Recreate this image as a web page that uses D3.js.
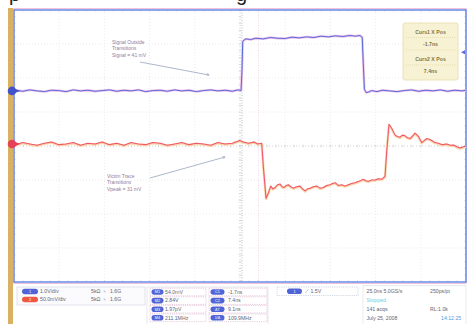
<!DOCTYPE html>
<html>
<meta charset="utf-8">
<head>
<style>
body { margin:0; padding:0; background:#fff; }
svg { display:block; }
text { font-family: "Liberation Sans", Arial, sans-serif; }
</style>
</head>
<body>
<svg></svg>
<script src="https://cdn.jsdelivr.net/npm/d3@7/dist/d3.min.js"></script>
<script>

var width = 470, height = 324;

// ch1 (blue) in volts, ch2 (red) in millivolts, time in ns
var blueTrace = [
  [-127,0.02],[-123,-0.01],[-119,0.03],[-115,0.00],[-111,-0.02],[-107,0.02],[-103,0.01],[-99,-0.02],
  [-95,0.03],[-91,0.00],[-87,0.02],[-83,-0.01],[-79,0.01],[-75,0.03],[-71,-0.01],[-67,0.02],
  [-63,0.00],[-59,0.03],[-55,-0.02],[-51,0.01],[-47,0.02],[-43,-0.01],[-39,0.03],[-35,0.00],
  [-31,0.02],[-27,-0.02],[-23,0.01],[-19,0.03],[-15,0.00],[-11,0.02],[-7,-0.01],[-4,0.03],[-2.2,0.01],
  [-1.7,0.6],[-1.3,1.45],[-0.5,1.50],[0.5,1.53],[3,1.51],[6,1.55],[10,1.53],[14,1.57],[18,1.55],
  [22,1.54],[26,1.58],[30,1.56],[34,1.59],[38,1.57],[42,1.61],[46,1.59],[50,1.62],[54,1.60],
  [58,1.63],[61,1.61],[63.5,1.63],[64.8,1.58],
  [65.4,0.8],[66.0,0.05],[67,-0.05],[68.5,-0.03],[70,0.01],[73,-0.02],[76,0.02],[80,0.00],
  [84,-0.02],[88,0.01],[92,0.03],[96,-0.01],[100,0.02],[104,0.00],[108,0.03],[112,-0.01],
  [116,0.02],[120,0.00],[122,0.02]
];

var redTrace = [
  [-127,-1],[-123,2],[-119,0],[-115,-2],[-111,1],[-107,3],[-103,-1],[-99,0],[-95,2],[-91,-2],
  [-87,1],[-83,0],[-79,3],[-75,-1],[-71,1],[-67,-2],[-63,2],[-59,0],[-55,-1],[-51,2],[-47,1],
  [-43,-2],[-39,0],[-35,2],[-31,-1],[-27,1],[-23,0],[-19,-2],[-15,2],[-11,0],[-7,1],[-3,5],
  [-1,3],[2,1],[5,3],[7,0],[9.2,1],
  [10.1,-33],[11.6,-80],[12.9,-72],[14.2,-62],[15.4,-66],[16.6,-64],[18,-60],[19.4,-59],
  [20.5,-63],[21.6,-64],[22.8,-61],[24.0,-60],[25.3,-63],[26.7,-65],[28.5,-63],[30.4,-62],
  [31.8,-66],[33.2,-69],[34.6,-66],[36.0,-65],[37.8,-63],[39.7,-62],[41.5,-65],[43.3,-64],
  [45.1,-61],[47.0,-60],[48.4,-58],[49.8,-57],[51.6,-61],[53.5,-60],[55.3,-62],[57.1,-60],
  [59,-58],[60.8,-57],[63,-55],[65.4,-52],[66.8,-54],[68.2,-55],[70,-53],[71.9,-53],
  [73.8,-51],[75.6,-52],[76.8,-49],[77.4,-48],
  [78.4,-9],[79.6,29],[81.1,23],[83.0,13],[84.3,11],[85.7,10],[87.1,13],[88.5,12],[89.9,9],
  [91.3,8],[92.7,12],[94.0,16],[95.9,11],[97.7,2],[99.1,5],[100.5,8],[101.9,7],[103.3,5],
  [105.1,2],[106.9,1],[109.2,-1],[111.6,0],[113.5,-2],[115.3,-1.5],[117.1,-4],[118.9,-6],
  [120.8,-4],[122.2,-3]
];

var ch1 = {voltsPerDiv: 1.0, posDiv: 1.62};
var ch2 = {voltsPerDiv: 50, posDiv: 0.06};
var trigLevel = 1.14;
var cursorTimes = [-1.7, 7.4];
var cursorText = ["Curs1 X Pos", "-1.7ns", "Curs2 X Pos", "7.4ns"];

var note1 = ["Signal Outside", "Transitions", "Signal = 41 mV"];
var note2 = ["Victim Trace", "Transitions", "Vpeak = 31 mV"];

var chanRows = [["1", "1.0V/div", "5kΩ", "1.6G"], ["2", "50.0mV/div", "5kΩ", "1.6G"]];
var measA = ["54.0mV", "2.84V", "1.97pV", "211.1MHz"];
var measB = ["-1.7ns", "7.4ns", "9.1ns", "109.9MHz"];
var trigText = "1.5V";
var tbLeft = ["25.0ns   5.0GS/s", "Stopped", "141 acqs", "July 25, 2008"];
var tbRight = ["250ps/pt", "", "RL:1.0k", "14:12:25"];

var svg = d3.select("svg").attr("width", width).attr("height", height);

var L = 14, R = 466, T = 10, B = 282;
var x = d3.scaleLinear().domain([-127.8, 122.2]).range([L, R]);
var xDiv = d3.scaleLinear().domain([-5, 5]).range([L, R]);
var yDiv = d3.scaleLinear().domain([-4, 4]).range([B, T]);
var yBlue = function(v) { return yDiv(v / ch1.voltsPerDiv + ch1.posDiv); };
var yRed = function(v) { return yDiv(v / ch2.voltsPerDiv + ch2.posDiv); };

// cut-off caption above
svg.append("text").attr("x", 9).attr("y", 1).attr("font-family", "Liberation Serif")
  .attr("font-size", 20).attr("fill", "#222").text("p");
svg.append("text").attr("x", 236).attr("y", 1).attr("font-family", "Liberation Serif")
  .attr("font-size", 20).attr("fill", "#222").text("g");

// orange side bar
svg.append("rect").attr("x", 8).attr("y", 8).attr("width", 5).attr("height", height - 8)
  .attr("fill", "#d9b163");

// grid
var grid = svg.append("g");
grid.selectAll(".gv").data(d3.range(-4, 5)).enter().append("line")
  .attr("x1", function(d) { return xDiv(d); }).attr("x2", function(d) { return xDiv(d); })
  .attr("y1", T).attr("y2", B)
  .attr("stroke", function(d) { return d == 0 ? "#c0c4cc" : "#e6e6e6"; })
  .attr("stroke-width", 0.8).attr("stroke-dasharray", "1,2");
grid.selectAll(".gh").data(d3.range(-3, 4)).enter().append("line")
  .attr("y1", function(d) { return yDiv(d); }).attr("y2", function(d) { return yDiv(d); })
  .attr("x1", L).attr("x2", R)
  .attr("stroke", function(d) { return d == 0 ? "#c0c4cc" : "#e6e6e6"; })
  .attr("stroke-width", 0.8).attr("stroke-dasharray", "1,2");

var minorX = d3.range(-25, 26).map(function(i) { return i / 5; });
var minorY = d3.range(-20, 21).map(function(i) { return i / 5; });
grid.selectAll(".tx").data(minorX).enter().append("line")
  .attr("x1", function(d) { return xDiv(d); }).attr("x2", function(d) { return xDiv(d); })
  .attr("y1", yDiv(0) - 1.3).attr("y2", yDiv(0) + 1.3).attr("stroke", "#bcc0cc").attr("stroke-width", 0.5);
grid.selectAll(".ty").data(minorY).enter().append("line")
  .attr("y1", function(d) { return yDiv(d); }).attr("y2", function(d) { return yDiv(d); })
  .attr("x1", xDiv(0) - 1.3).attr("x2", xDiv(0) + 1.3).attr("stroke", "#bcc0cc").attr("stroke-width", 0.5);
[T, B].forEach(function(yy) {
  grid.selectAll(null).data(minorX).enter().append("line")
    .attr("x1", function(d) { return xDiv(d); }).attr("x2", function(d) { return xDiv(d); })
    .attr("y1", yy).attr("y2", yy == T ? yy + 2 : yy - 2).attr("stroke", "#c8cce0").attr("stroke-width", 0.5);
});
[L, R].forEach(function(xx) {
  grid.selectAll(null).data(minorY).enter().append("line")
    .attr("y1", function(d) { return yDiv(d); }).attr("y2", function(d) { return yDiv(d); })
    .attr("x1", xx).attr("x2", xx == L ? xx + 2 : xx - 2).attr("stroke", "#c8cce0").attr("stroke-width", 0.5);
});

// cursors
svg.selectAll(".cur").data(cursorTimes).enter().append("line")
  .attr("x1", function(d) { return x(d); }).attr("x2", function(d) { return x(d); })
  .attr("y1", T).attr("y2", B)
  .attr("stroke", function(d, i) { return i == 0 ? "#a4b09a" : "#e8cade"; })
  .attr("stroke-width", 0.8).attr("stroke-dasharray", "1,1.5");

// frame
svg.append("rect").attr("x", L).attr("y", T - 1.5).attr("width", R - L).attr("height", B - T + 3)
  .attr("fill", "none").attr("stroke", "#f2c2dc").attr("stroke-width", 1);
svg.append("rect").attr("x", L).attr("y", T).attr("width", R - L).attr("height", B - T)
  .attr("fill", "none").attr("stroke", "#6a8ae6").attr("stroke-width", 1.5);

// traces
var lineBlue = d3.line().x(function(d) { return x(d[0]); }).y(function(d) { return yBlue(d[1]); });
var lineRed = d3.line().x(function(d) { return x(d[0]); }).y(function(d) { return yRed(d[1]); });

svg.append("path").datum(blueTrace).attr("d", lineBlue).attr("fill", "none")
  .attr("stroke", "#ebbfe6").attr("stroke-width", 2.4).attr("stroke-linejoin", "round");
svg.append("path").datum(blueTrace).attr("d", lineBlue).attr("fill", "none")
  .attr("stroke", "#5b6cdc").attr("stroke-width", 1).attr("stroke-linejoin", "round");

svg.append("path").datum(redTrace).attr("d", lineRed).attr("fill", "none")
  .attr("transform", "translate(0,0.6)")
  .attr("stroke", "#f9d6a8").attr("stroke-width", 2.4).attr("stroke-linejoin", "round");
svg.append("path").datum(redTrace).attr("d", lineRed).attr("fill", "none")
  .attr("stroke", "#f0566e").attr("stroke-width", 1.05).attr("stroke-linejoin", "round");

// channel markers
[[yBlue(0), "#4354c8"], [yRed(0), "#e5425a"]].forEach(function(m) {
  svg.append("path").attr("d", "M15," + (m[0] - 2.2) + "L20," + m[0] + "L15," + (m[0] + 2.2) + "Z")
    .attr("fill", m[1]);
  svg.append("circle").attr("cx", 12).attr("cy", m[0]).attr("r", 4.3).attr("fill", m[1]);
});
var ty = yBlue(trigLevel);
svg.append("path").attr("d", "M" + (R - 1) + "," + (ty - 2) + "L" + (R - 5) + "," + ty + "L" + (R - 1) + "," + (ty + 2) + "Z")
  .attr("fill", "#5466d8");

// annotations
svg.append("defs").append("marker").attr("id", "ah").attr("viewBox", "0 0 6 6")
  .attr("refX", 5).attr("refY", 3).attr("markerWidth", 5).attr("markerHeight", 5).attr("orient", "auto")
  .append("path").attr("d", "M0,0L6,3L0,6").attr("fill", "none").attr("stroke", "#8a98b4").attr("stroke-width", 0.8);

function note(lines, tx, tyy, a) {
  svg.append("g").selectAll("text").data(lines).enter().append("text")
    .attr("x", tx).attr("y", function(d, i) { return tyy + i * 6.3; })
    .attr("font-size", 5).attr("fill", "#927e9c").text(function(d) { return d; });
  svg.append("line").attr("x1", a[0]).attr("y1", a[1]).attr("x2", a[2]).attr("y2", a[3])
    .attr("stroke", "#8a98b4").attr("stroke-width", 0.7).attr("marker-end", "url(#ah)");
}
note(note1, 112, 44, [140, 62, 209, 75]);
note(note2, 107, 178, [150, 178, 225, 157]);

// cursor readout box
var cb = svg.append("g");
cb.append("rect").attr("x", 403).attr("y", 23).attr("width", 55).attr("height", 57).attr("rx", 2)
  .attr("fill", "#f8f2d4").attr("stroke", "#e6dba6").attr("stroke-width", 0.8);
[37.5, 50, 65].forEach(function(yy) {
  cb.append("line").attr("x1", 406).attr("x2", 455).attr("y1", yy).attr("y2", yy)
    .attr("stroke", "#ddd0a0").attr("stroke-width", 0.6).attr("stroke-dasharray", "1,1");
});
cb.selectAll("text").data(cursorText).enter().append("text")
  .attr("x", 430.5).attr("y", function(d, i) { return [34, 45.5, 60.5, 73][i]; })
  .attr("text-anchor", "middle").attr("font-size", 5.2).attr("font-weight", "bold")
  .attr("fill", "#85753e").text(function(d) { return d; });

// bottom panel
function badge(g, bx, by, w, col, label) {
  g.append("rect").attr("x", bx).attr("y", by - 2.8).attr("width", w).attr("height", 5.6).attr("rx", 2.8)
    .attr("fill", col);
  g.append("text").attr("x", bx + w / 2).attr("y", by + 1.4).attr("text-anchor", "middle")
    .attr("font-size", 3.8).attr("fill", "#fff").text(label);
}
var panel = svg.append("g");
var txtCol = "#666672";

panel.append("rect").attr("x", 17).attr("y", 287).attr("width", 128).attr("height", 18)
  .attr("fill", "#fbfbfd").attr("stroke", "#d6d8e6").attr("stroke-width", 0.7);
chanRows.forEach(function(r, i) {
  var yy = 291.5 + i * 8;
  badge(panel, 22, yy, 16, i == 0 ? "#5064d6" : "#ee5a40", r[0]);
  panel.append("text").attr("x", 40).attr("y", yy + 1.8).attr("font-size", 5.2).attr("fill", txtCol).text(r[1]);
  panel.append("text").attr("x", 91).attr("y", yy + 1.8).attr("font-size", 5.2).attr("fill", txtCol).text(r[2]);
  panel.append("text").attr("x", 103).attr("y", yy + 1.8).attr("font-size", 5.2).attr("fill", txtCol).text("ᛃ");
  panel.append("text").attr("x", 110).attr("y", yy + 1.8).attr("font-size", 5.2).attr("fill", txtCol).text(r[3]);
});

panel.append("rect").attr("x", 147).attr("y", 287).attr("width", 121).attr("height", 40)
  .attr("fill", "none").attr("stroke", "#dcdce4").attr("stroke-width", 0.7);
[[measA, 150, 56, ["M1", "M2", "M3", "M4"]], [measB, 209, 58, ["C1", "C2", "ΔT", "1/Δ"]]].forEach(function(c) {
  c[0].forEach(function(v, i) {
    var yy = 292 + i * 8.6;
    panel.append("rect").attr("x", c[1]).attr("y", yy - 3.8).attr("width", c[2]).attr("height", 7.6)
      .attr("fill", "#fff").attr("stroke", "#d8aac8").attr("stroke-width", 0.6).attr("stroke-dasharray", "1.2,1");
    badge(panel, c[1] + 1.5, yy, c[1] == 150 ? 12 : 14, "#5064d6", c[3][i]);
    panel.append("text").attr("x", c[1] + (c[1] == 150 ? 15 : 19)).attr("y", yy + 1.8)
      .attr("font-size", 5.2).attr("fill", txtCol).text(v);
  });
});

panel.append("rect").attr("x", 277).attr("y", 287).attr("width", 81).attr("height", 8.5)
  .attr("fill", "#fff").attr("stroke", "#b8bcd4").attr("stroke-width", 0.6).attr("stroke-dasharray", "1.2,1");
badge(panel, 287, 291.2, 15, "#5064d6", "1");
panel.append("text").attr("x", 305).attr("y", 293).attr("font-size", 5.2).attr("fill", txtCol).text("⟋ " + trigText);

panel.append("rect").attr("x", 363).attr("y", 285.5).attr("width", 103).attr("height", 40)
  .attr("fill", "#fff").attr("stroke", "#dfe2ea").attr("stroke-width", 0.7);
tbLeft.forEach(function(s, i) {
  panel.append("text").attr("x", 366.5).attr("y", 293 + i * 9).attr("font-size", 5.2)
    .attr("fill", i == 1 ? "#66d0e6" : txtCol).text(s);
});
tbRight.forEach(function(s, i) {
  panel.append("text").attr("x", i == 3 ? 441 : 430).attr("y", 293 + i * 9).attr("font-size", 5.2)
    .attr("fill", i == 3 ? "#5a96e2" : txtCol).text(s);
});

</script>
</body>
</html>
